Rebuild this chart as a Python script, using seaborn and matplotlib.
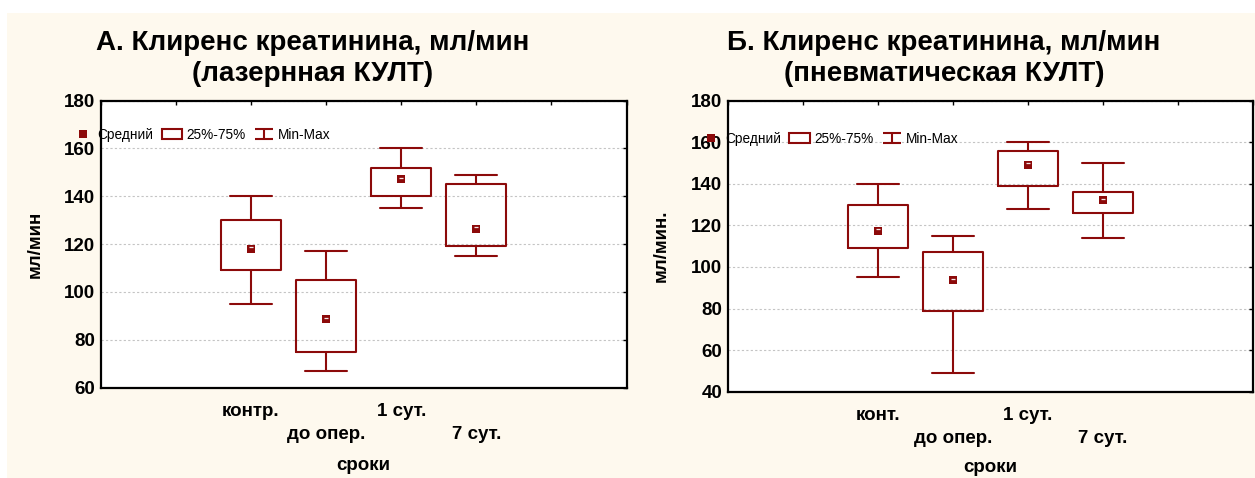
import matplotlib
matplotlib.use("Agg")
import matplotlib.pyplot as plt
import matplotlib.transforms as mtransforms
import seaborn as sns
import pandas as pd
from matplotlib.lines import Line2D
from matplotlib.patches import Patch, Rectangle
from matplotlib.path import Path

# ---- data: creatinine clearance, ml/min ----
laser_categories = ["контр.", "до опер.", "1 сут.", "7 сут."]
pneumo_categories = ["конт.", "до опер.", "1 сут.", "7 сут."]

laser_min = [95, 67, 135, 115]
laser_q1 = [109, 75, 140, 119]
laser_q3 = [130, 105, 152, 145]
laser_max = [140, 117, 160, 149]
laser_mean = [118, 88.5, 147, 126.5]

pneumo_min = [95, 49, 128, 114]
pneumo_q1 = [109, 79, 139, 126]
pneumo_q3 = [130, 107, 156, 136]
pneumo_max = [140, 115, 160, 150]
pneumo_mean = [117.5, 93.5, 149, 132]

laser_title = ["А. Клиренс креатинина, мл/мин", "(лазернная КУЛТ)"]
pneumo_title = ["Б. Клиренс креатинина, мл/мин", "(пневматическая КУЛТ)"]
laser_ylabel = "мл/мин"
pneumo_ylabel = "мл/мин."
xlabel = "сроки"
legend_labels = ["Средний", "25%-75%", "Min-Max"]

RED = "#8C0A0A"
CREAM = "#FEF9EE"

sns.set_style("white")
plt.rcParams["font.family"] = ["Liberation Sans", "DejaVu Sans"]
plt.rcParams["text.color"] = "black"
plt.rcParams["axes.labelcolor"] = "black"
plt.rcParams["xtick.color"] = "black"
plt.rcParams["ytick.color"] = "black"


def summary_frame(cats, mins, q1s, means, q3s, maxs):
    # five values per group whose 0/25/75/100 percentiles are min, Q1, Q3, max
    rows = []
    for c, lo, a, m, b, hi in zip(cats, mins, q1s, means, q3s, maxs):
        for v in (lo, a, m, b, hi):
            rows.append({"срок": c, "value": v})
    return pd.DataFrame(rows)


whisker_path = Path(
    [(-1, 0.6), (1, 0.6), (0, 0.6), (0, -0.6), (-1, -0.6), (1, -0.6)],
    [Path.MOVETO, Path.LINETO, Path.MOVETO, Path.LINETO, Path.MOVETO, Path.LINETO],
)


def draw_panel(fig, ax, cats, mins, q1s, means, q3s, maxs, ylim, ylabel,
               ylabel_x, xlabel_y, legend_anchor):
    df = summary_frame(cats, mins, q1s, means, q3s, maxs)
    sns.boxplot(data=df, x="срок", y="value", order=cats, whis=(0, 100),
                fill=False, color=RED, linecolor=RED, linewidth=1.5, width=0.8,
                medianprops={"visible": False}, capwidths=0.56, ax=ax)
    sns.pointplot(x=cats, y=means, order=cats, color=RED, marker="s",
                  linestyle="none", markersize=5.5, markeredgewidth=0,
                  errorbar=None, ax=ax, zorder=5)
    # small light glint on each mean marker
    glint = ax.transData + mtransforms.ScaledTranslation(0, 1.2 / 72, fig.dpi_scale_trans)
    sns.pointplot(x=cats, y=means, order=cats, color="#F4E6E6", marker="_",
                  linestyle="none", markersize=2.5, markeredgewidth=0.9,
                  errorbar=None, ax=ax, zorder=6, transform=glint)

    ax.set_xlim(-2, 5)
    ax.set_ylim(*ylim)
    ax.set_yticks(range(ylim[0], ylim[1] + 1, 20))
    ticks = list(range(-2, 6))
    labels = ["", ""] + [c if i % 2 == 0 else "\n" + c for i, c in enumerate(cats)] + ["", ""]
    ax.set_xticks(ticks)
    ax.set_xticklabels(labels)
    ax.tick_params(direction="in", length=3, width=1, top=True, right=True,
                   labelsize=13.5, colors="black")
    ax.tick_params(axis="x", pad=11)
    ax.tick_params(axis="y", pad=4)
    for t in ax.get_xticklabels():
        t.set_fontweight("bold")
        t.set_linespacing(1.45)
    for t in ax.get_yticklabels():
        t.set_fontweight("bold")

    ax.yaxis.grid(True, color="#C4C4C4", linestyle=(0, (2, 2)), linewidth=0.8)
    ax.xaxis.grid(False)
    ax.set_axisbelow(True)
    for s in ax.spines.values():
        s.set_visible(True)
        s.set_color("black")
        s.set_linewidth(1.6)
    ax.set_facecolor("white")

    ax.set_ylabel(ylabel, fontsize=13.5, fontweight="bold")
    ax.yaxis.set_label_coords(ylabel_x, 0.5)
    ax.set_xlabel(xlabel, fontsize=13.5, fontweight="bold")
    ax.xaxis.set_label_coords(0.5, xlabel_y)

    handles = [
        Line2D([], [], marker="s", linestyle="none", color=RED, markersize=5.5,
               markeredgewidth=0),
        Patch(facecolor="none", edgecolor=RED, linewidth=1.5),
        Line2D([], [], marker=whisker_path, linestyle="none", color=RED,
               markersize=13, markeredgewidth=1.5),
    ]
    ax.legend(handles, legend_labels, loc="upper left", bbox_to_anchor=legend_anchor,
              ncol=3, frameon=False, fontsize=9.8, handlelength=1.5,
              handletextpad=0.3, columnspacing=0.6, borderpad=0, borderaxespad=0)


fig = plt.figure(figsize=(12.55, 4.78), dpi=100, facecolor="white")
fig.patches.append(Rectangle((7 / 1255, 0), 1, 1 - 13 / 478,
                             transform=fig.transFigure, facecolor=CREAM,
                             edgecolor="none", zorder=-10))

ax1 = fig.add_axes([100.8 / 1255, 90.3 / 478, 525.7 / 1255, 287.2 / 478])
ax2 = fig.add_axes([727.6 / 1255, 86.3 / 478, 525.7 / 1255, 291.0 / 478])

draw_panel(fig, ax1, laser_categories, laser_min, laser_q1, laser_mean, laser_q3,
           laser_max, (60, 180), laser_ylabel, -0.108, -0.24, (-0.053, 0.905))
draw_panel(fig, ax2, pneumo_categories, pneumo_min, pneumo_q1, pneumo_mean, pneumo_q3,
           pneumo_max, (40, 180), pneumo_ylabel, -0.110, -0.23, (-0.051, 0.893))

for cx, lines in ((313, laser_title), (944, pneumo_title)):
    fig.text(cx / 1255, 1 - 50 / 478, lines[0], ha="center", va="baseline",
             fontsize=20, fontweight="bold")
    fig.text(cx / 1255, 1 - 81 / 478, lines[1], ha="center", va="baseline",
             fontsize=20, fontweight="bold")

fig.savefig("out.png", dpi=100, facecolor=fig.get_facecolor())
